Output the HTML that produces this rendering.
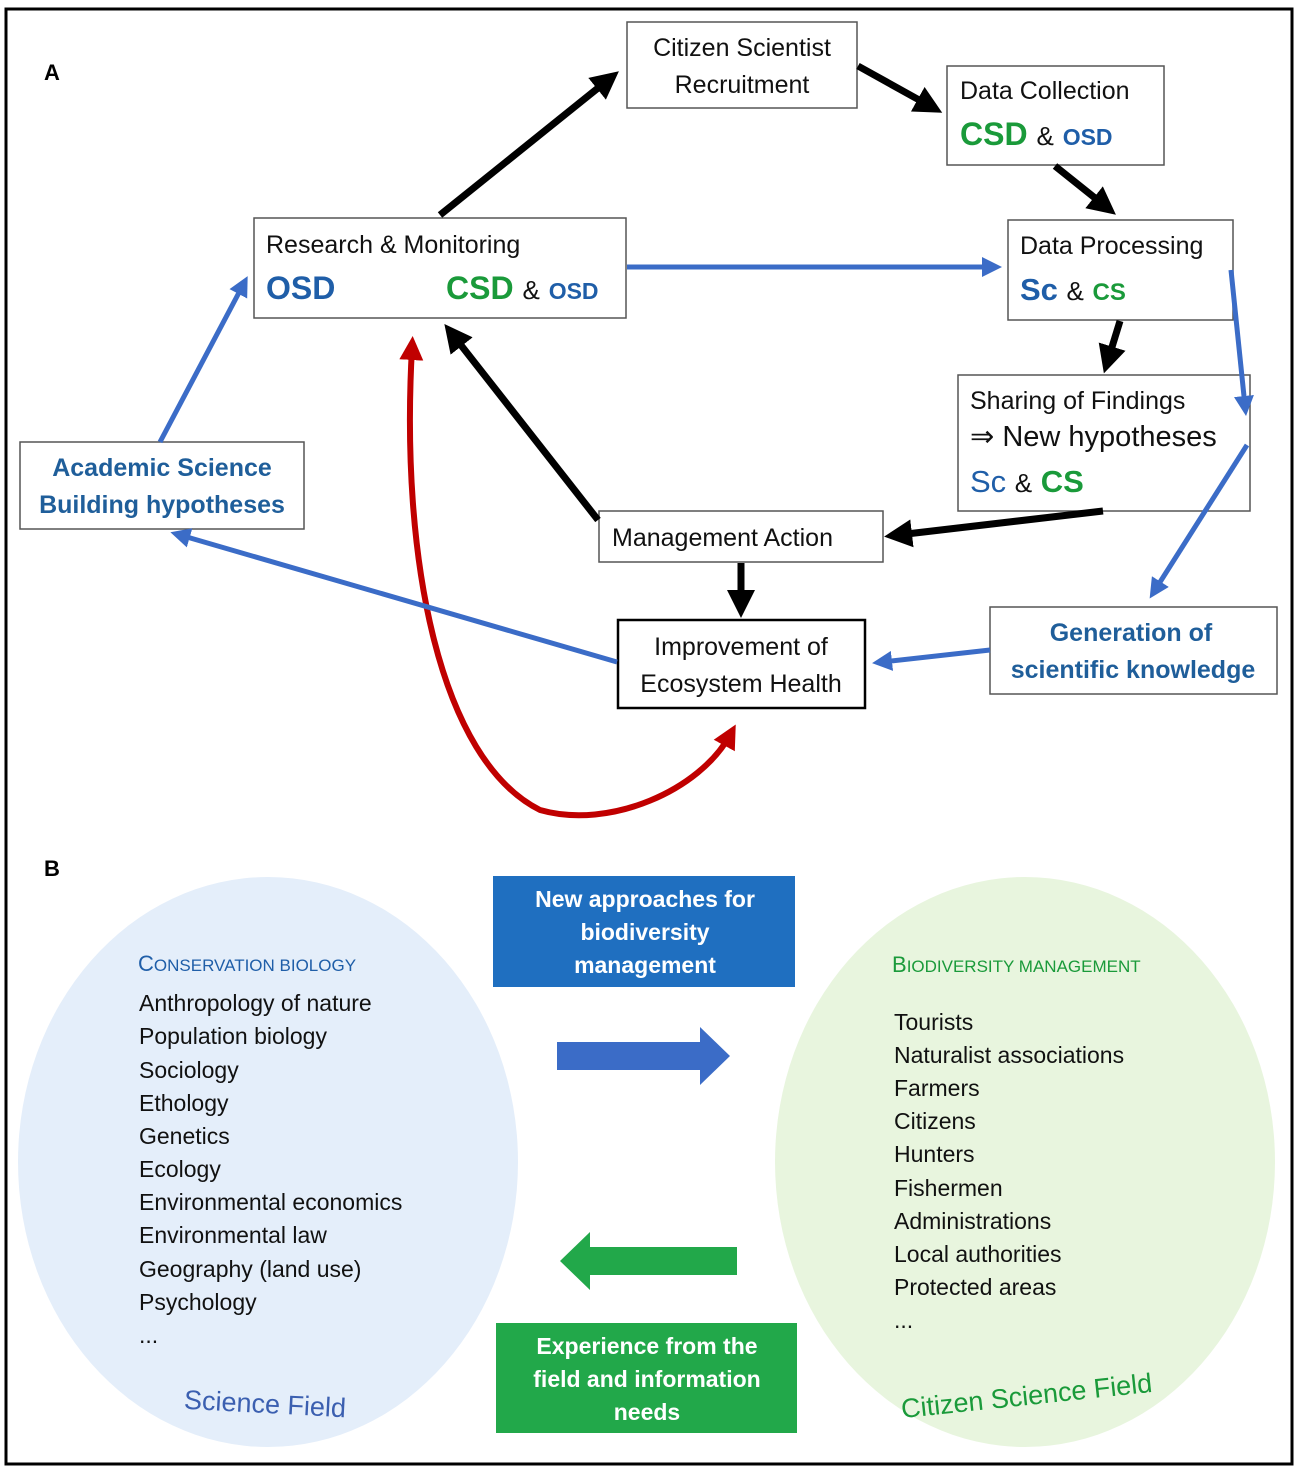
<!DOCTYPE html>
<html><head><meta charset="utf-8"><style>
html,body{margin:0;padding:0;background:#fff}
svg{display:block}
text{font-family:"Liberation Sans","DejaVu Sans",sans-serif}
</style></head><body>
<svg width="1299" height="1468" viewBox="0 0 1299 1468" xmlns="http://www.w3.org/2000/svg">
<defs>
<marker id="ak" markerWidth="4" markerHeight="4" refX="2" refY="2" orient="auto" markerUnits="strokeWidth"><path d="M0,0 L4,2 L0,4 z" fill="#000"/></marker>
<marker id="ab" markerWidth="4" markerHeight="4" refX="2" refY="2" orient="auto" markerUnits="strokeWidth"><path d="M0,0 L4,2 L0,4 z" fill="#3b6cc7"/></marker>
<marker id="ar" markerWidth="4" markerHeight="4" refX="2" refY="2" orient="auto-start-reverse" markerUnits="strokeWidth"><path d="M0,0 L4,2 L0,4 z" fill="#c00000"/></marker>
</defs>
<rect x="6" y="9" width="1286" height="1455" fill="#fff" stroke="#000" stroke-width="3"/>
<text x="44" y="80" font-size="22" font-weight="bold">A</text>
<text x="44" y="876" font-size="22" font-weight="bold">B</text>

<path d="M412,348 C400,560 440,760 540,810 C610,830 700,790 730,735" stroke="#c00000" stroke-width="6" fill="none" marker-start="url(#ar)" marker-end="url(#ar)"/>

<!-- boxes -->
<g fill="#fff" stroke="#555" stroke-width="1.5">
<rect x="627" y="22" width="230" height="86"/>
<rect x="947" y="66" width="217" height="99"/>
<rect x="254" y="218" width="372" height="100"/>
<rect x="1008" y="220" width="225" height="100"/>
<rect x="958" y="375" width="292" height="136"/>
<rect x="20" y="442" width="284" height="87"/>
<rect x="599" y="511" width="284" height="51"/>
<rect x="990" y="607" width="287" height="87"/>
</g>
<rect x="618" y="620" width="247" height="88" fill="#fff" stroke="#000" stroke-width="2.5"/>

<g stroke="#000" stroke-width="7" fill="none">
<line x1="440" y1="215" x2="608" y2="80" marker-end="url(#ak)"/>
<line x1="858" y1="66" x2="930" y2="106" marker-end="url(#ak)"/>
<line x1="1055" y1="166" x2="1105" y2="206" marker-end="url(#ak)"/>
<line x1="1120" y1="321" x2="1108" y2="360" marker-end="url(#ak)"/>
<line x1="1103" y1="511" x2="898" y2="535" marker-end="url(#ak)"/>
<line x1="598" y1="520" x2="453" y2="335" marker-end="url(#ak)"/>
<line x1="741" y1="563" x2="741" y2="604" marker-end="url(#ak)"/>
</g>
<g stroke="#3b6cc7" stroke-width="5" fill="none">
<line x1="627" y1="267" x2="992" y2="267" marker-end="url(#ab)"/>
<line x1="1231" y1="270" x2="1245" y2="406" marker-end="url(#ab)"/>
<line x1="1247" y1="445" x2="1155" y2="590" marker-end="url(#ab)"/>
<line x1="990" y1="650" x2="882" y2="662" marker-end="url(#ab)"/>
<line x1="617" y1="662" x2="180" y2="535" marker-end="url(#ab)"/>
<line x1="160" y1="442" x2="243" y2="285" marker-end="url(#ab)"/>
</g>

<g font-size="25" fill="#111">
<text x="742" y="56" text-anchor="middle">Citizen Scientist</text>
<text x="742" y="93" text-anchor="middle">Recruitment</text>
<text x="960" y="99">Data Collection</text>
<text x="266" y="253">Research &amp; Monitoring</text>
<text x="1020" y="254">Data Processing</text>
<text x="970" y="409">Sharing of Findings</text>
<text x="970" y="446" font-size="29">⇒ New hypotheses</text>
<text x="612" y="546">Management Action</text>
<text x="741" y="655" text-anchor="middle">Improvement of</text>
<text x="741" y="692" text-anchor="middle">Ecosystem Health</text>
</g>
<text x="960" y="145" font-size="32" font-weight="bold" fill="#1a9a3a">CSD <tspan fill="#111" font-weight="normal" font-size="26">&amp;</tspan> <tspan fill="#1f5ea8" font-size="23">OSD</tspan></text>
<text x="266" y="299" font-size="32" font-weight="bold" fill="#1f5ea8">OSD</text>
<text x="446" y="299" font-size="32" font-weight="bold" fill="#1a9a3a">CSD <tspan fill="#111" font-weight="normal" font-size="26">&amp;</tspan> <tspan fill="#1f5ea8" font-size="23">OSD</tspan></text>
<text x="1020" y="300" font-size="31" font-weight="bold" fill="#1f5ea8">Sc <tspan fill="#111" font-weight="normal" font-size="26">&amp;</tspan> <tspan fill="#1a9a3a" font-size="24">CS</tspan></text>
<text x="970" y="492" font-size="31" fill="#1f5ea8">Sc <tspan fill="#111" font-size="26">&amp;</tspan> <tspan fill="#1a9a3a" font-weight="bold">CS</tspan></text>
<g font-size="25" font-weight="bold" fill="#1f5e9a" text-anchor="middle">
<text x="162" y="476">Academic Science</text>
<text x="162" y="513">Building hypotheses</text>
<text x="1131" y="641">Generation of</text>
<text x="1133" y="678">scientific knowledge</text>
</g>

<!-- part B -->
<ellipse cx="268" cy="1162" rx="250" ry="285" fill="#e4eefa"/>
<ellipse cx="1025" cy="1162" rx="250" ry="285" fill="#e8f5de"/>
<rect x="493" y="876" width="302" height="111" fill="#1f6fc0"/>
<rect x="496" y="1323" width="301" height="110" fill="#22a84a"/>
<g font-size="23" font-weight="bold" fill="#fff" text-anchor="middle">
<text x="645" y="907">New approaches for</text>
<text x="645" y="940">biodiversity</text>
<text x="645" y="973">management</text>
<text x="647" y="1354">Experience from the</text>
<text x="647" y="1387">field and information</text>
<text x="647" y="1420">needs</text>
</g>
<path d="M557,1042 H700 V1027 L730,1056 L700,1085 V1070 H557 Z" fill="#3b6cc7"/>
<path d="M737,1247 H590 V1232 L560,1261 L590,1290 V1275 H737 Z" fill="#22a84a"/>
<text x="138" y="971" font-size="22" fill="#1f5ea8">C<tspan font-size="17">ONSERVATION BIOLOGY</tspan></text>
<text x="892" y="972" font-size="22" fill="#1a9a3a">B<tspan font-size="17">IODIVERSITY MANAGEMENT</tspan></text>
<g font-size="23" fill="#111">
<text x="139" y="1011">Anthropology of nature</text>
<text x="139" y="1044">Population biology</text>
<text x="139" y="1078">Sociology</text>
<text x="139" y="1111">Ethology</text>
<text x="139" y="1144">Genetics</text>
<text x="139" y="1177">Ecology</text>
<text x="139" y="1210">Environmental economics</text>
<text x="139" y="1243">Environmental law</text>
<text x="139" y="1277">Geography (land use)</text>
<text x="139" y="1310">Psychology</text>
<text x="139" y="1343">...</text>
<text x="894" y="1030">Tourists</text>
<text x="894" y="1063">Naturalist associations</text>
<text x="894" y="1096">Farmers</text>
<text x="894" y="1129">Citizens</text>
<text x="894" y="1162">Hunters</text>
<text x="894" y="1196">Fishermen</text>
<text x="894" y="1229">Administrations</text>
<text x="894" y="1262">Local authorities</text>
<text x="894" y="1295">Protected areas</text>
<text x="894" y="1328">...</text>
</g>
<text x="265" y="1413" font-size="27" fill="#3b5fb0" text-anchor="middle" transform="rotate(3 265 1405)">Science Field</text>
<text x="1027" y="1405" font-size="27" fill="#1a9a3a" text-anchor="middle" transform="rotate(-6 1027 1400)">Citizen Science Field</text>
</svg>
</body></html>
